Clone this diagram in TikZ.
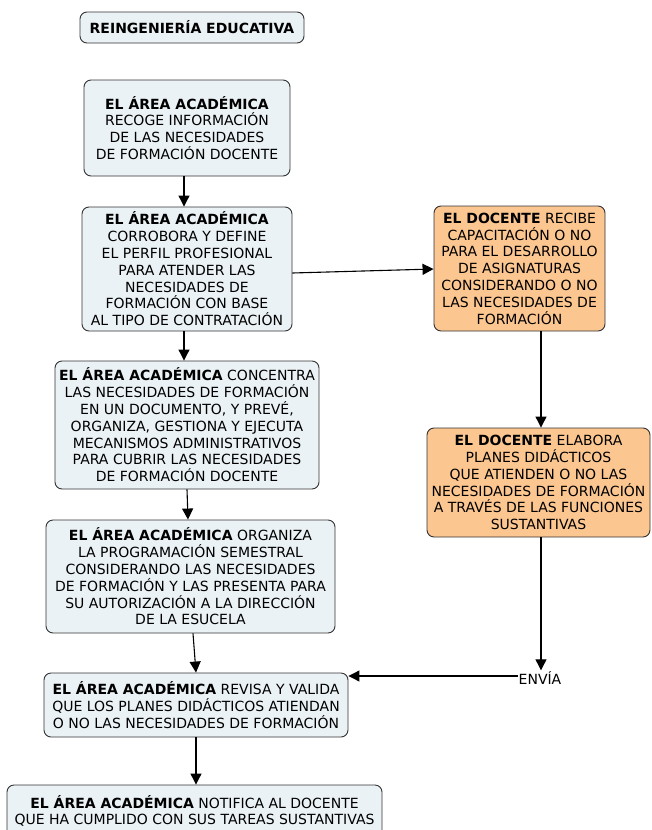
\documentclass[tikz,border=0pt]{standalone}
\usepackage{fontspec}
\setmainfont{DejaVu Sans}
\usetikzlibrary{arrows.meta}
\definecolor{bluefill}{HTML}{EBF2F5}
\definecolor{orangefill}{HTML}{FCC690}
\definecolor{edge}{HTML}{333333}
\tikzset{
  box/.style={draw=edge, line width=0.9pt, rounded corners=7pt, fill=bluefill,
    align=center, inner sep=0pt, font=\fontsize{14}{16.8}\selectfont},
  obox/.style={box, fill=orangefill},
  arr/.style={draw=black, line width=1.1pt, -{Triangle[length=11pt,width=11pt]}},
  lbl/.style={inner sep=1pt, font=\fontsize{14}{16.8}\selectfont}
}
\begin{document}
\begin{tikzpicture}[x=1pt,y=-1pt]
\useasboundingbox (0,0) rectangle (651,830);
\fill[white] (0,0) rectangle (651,830);

\node[box, minimum width=224pt, minimum height=31pt, font=\fontsize{14}{16.8}\selectfont\bfseries] (T) at (192,27.5) {REINGENIERÍA EDUCATIVA};

\node[box, minimum width=206pt, minimum height=96pt] (B1) at (187,128)
 {\textbf{EL ÁREA ACADÉMICA}\\RECOGE INFORMACIÓN\\DE LAS NECESIDADES\\DE FORMACIÓN DOCENTE};

\node[box, minimum width=210pt, minimum height=124pt] (B2) at (187,269)
 {\textbf{EL ÁREA ACADÉMICA}\\CORROBORA Y DEFINE\\EL PERFIL PROFESIONAL\\PARA ATENDER LAS\\NECESIDADES DE\\FORMACIÓN CON BASE\\AL TIPO DE CONTRATACIÓN};

\node[obox, minimum width=171pt, minimum height=125pt] (D1) at (519.5,268.5)
 {\textbf{EL DOCENTE} RECIBE\\CAPACITACIÓN O NO\\PARA EL DESARROLLO\\DE ASIGNATURAS\\CONSIDERANDO O NO\\LAS NECESIDADES DE\\FORMACIÓN};

\node[box, minimum width=264pt, minimum height=128pt] (B3) at (187,425)
 {\textbf{EL ÁREA ACADÉMICA} CONCENTRA\\LAS NECESIDADES DE FORMACIÓN\\EN UN DOCUMENTO, Y PREVÉ,\\ORGANIZA, GESTIONA Y EJECUTA\\MECANISMOS ADMINISTRATIVOS\\PARA CUBRIR LAS NECESIDADES\\DE FORMACIÓN DOCENTE};

\node[obox, minimum width=223pt, minimum height=109pt] (D2) at (538.5,482.5)
 {\textbf{EL DOCENTE} ELABORA\\PLANES DIDÁCTICOS\\QUE ATIENDEN O NO LAS\\NECESIDADES DE FORMACIÓN\\A TRAVÉS DE LAS FUNCIONES\\SUSTANTIVAS};

\node[box, minimum width=289pt, minimum height=113pt] (B4) at (190.5,576.5)
 {\textbf{EL ÁREA ACADÉMICA} ORGANIZA\\LA PROGRAMACIÓN SEMESTRAL\\CONSIDERANDO LAS NECESIDADES\\DE FORMACIÓN Y LAS PRESENTA PARA\\SU AUTORIZACIÓN A LA DIRECCIÓN\\DE LA ESUCELA};

\node[box, minimum width=304pt, minimum height=64pt] (B5) at (196,705)
 {\textbf{EL ÁREA ACADÉMICA} REVISA Y VALIDA\\QUE LOS PLANES DIDÁCTICOS ATIENDAN\\O NO LAS NECESIDADES DE FORMACIÓN};

\node[box, minimum width=375pt, minimum height=52pt] (B6) at (194.5,811)
 {\textbf{EL ÁREA ACADÉMICA} NOTIFICA AL DOCENTE\\QUE HA CUMPLIDO CON SUS TAREAS SUSTANTIVAS};

\node[lbl] (E) at (540,678) {ENVÍA};

\draw[arr] (184,0 |- B1.south) -- (184,0 |- B2.north);
\draw[arr] (184,0 |- B2.south) -- (184,0 |- B3.north);
\draw[arr] (187,0 |- B3.south) -- (188,0 |- B4.north);
\draw[arr] (193,0 |- B4.south) -- (196,0 |- B5.north);
\draw[arr] (196,0 |- B5.south) -- (196,0 |- B6.north);
\draw[arr] (B2.east |- 0,273) -- (D1.west |- 0,269);
\draw[arr] (541,0 |- D1.south) -- (541,0 |- D2.north);
\draw[arr] (541,0 |- D2.south) -- (541,0 |- E.north);
\draw[arr] (E.west |- 0,676) -- (B5.east |- 0,676);
\end{tikzpicture}
\end{document}
